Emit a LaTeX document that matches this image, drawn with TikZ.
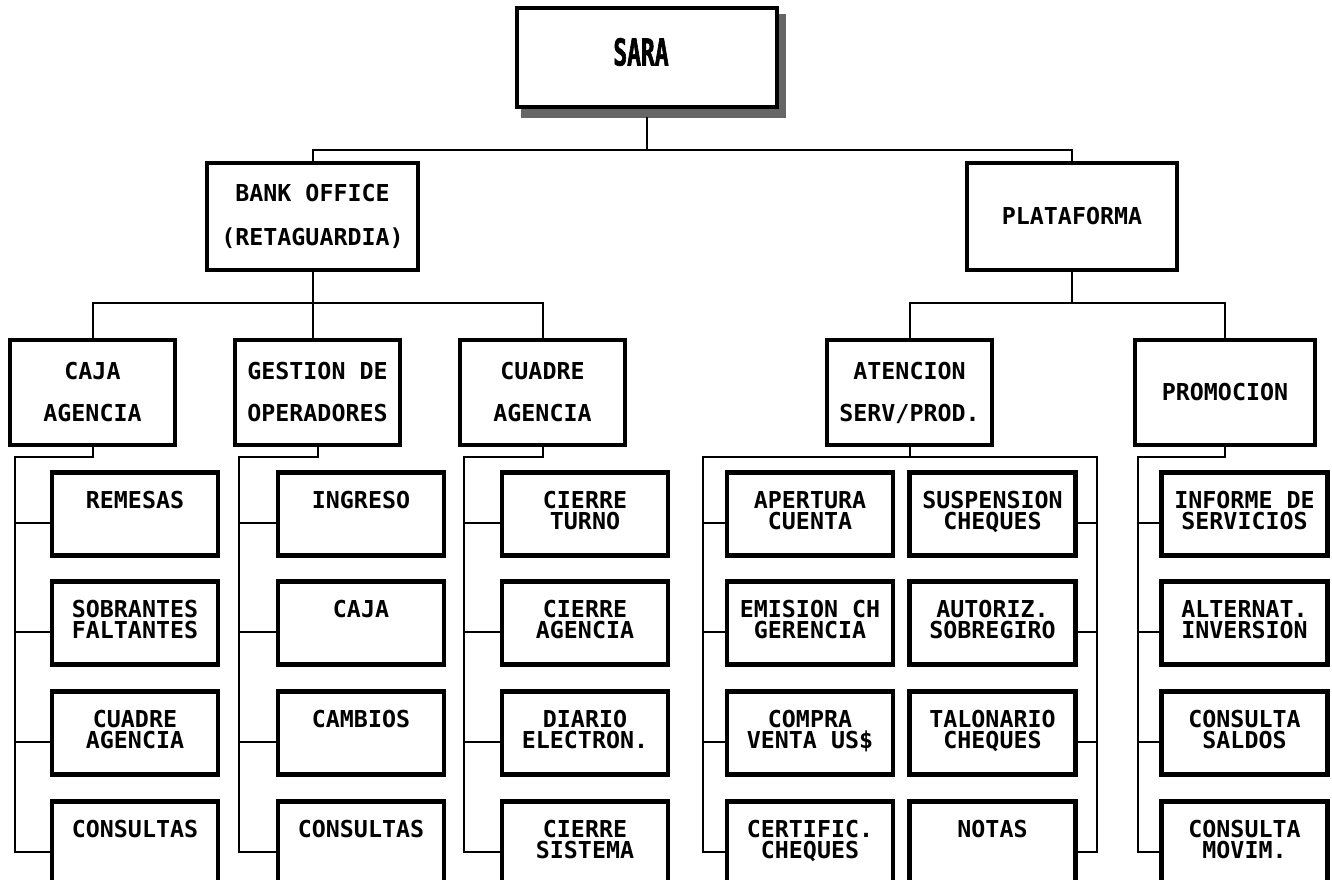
\documentclass[tikz,border=0pt]{standalone}
\usepackage{fontspec}
\newfontfamily\chartfont{DejaVu Sans Mono}
\newfontfamily\titlefont[FakeStretch=0.62,FakeBold=1.5]{DejaVu Sans Mono}
\usetikzlibrary{backgrounds}

\tikzset{
  frame/.style={draw=black, line width=4.5pt, fill=white, inner sep=0pt},
  headbox/.style={frame, minimum height=107pt, align=center,
    font=\chartfont\bfseries\fontsize{23.3}{44}\selectfont},
  midbox/.style={frame, minimum width=165pt, minimum height=105pt, align=center,
    font=\chartfont\bfseries\fontsize{23.3}{42}\selectfont},
  leafbox/.style={frame, minimum width=166pt, minimum height=83pt},
  leaflabel/.style={anchor=north, inner sep=0pt, align=center,
    font=\chartfont\bfseries\fontsize{23.3}{21}\selectfont},
  link/.style={line width=2pt, line cap=rect}
}

% leaf box with its label near the top and a connection port on each side
\newcommand\placeleaf[4]{%
  \node[leafbox] (#1) at (#2,#3) {};
  \node[leaflabel] (#1-txt) at ([yshift=-21pt]#1.north) {\rule{0pt}{17pt}#4};
  \coordinate (#1-l) at ([yshift=-9pt]#1.west);
  \coordinate (#1-r) at ([yshift=-9pt]#1.east);
}

\begin{document}
\begin{tikzpicture}[x=1pt,y=-1pt]
\useasboundingbox (0,0) rectangle (1332,879);
\begin{pgfonlayer}{background}
  \fill[white] (0,0) rectangle (1332,879);
\end{pgfonlayer}
\clip (0,0) rectangle (1332,879);

% bus levels and vertical bus lines
\coordinate (tier1) at (0,150);
\coordinate (tier2) at (0,303);
\coordinate (tier3) at (0,457);
\coordinate (b1) at (15,0);
\coordinate (b2) at (239,0);
\coordinate (b3) at (464,0);
\coordinate (b4) at (703,0);
\coordinate (b5) at (1097,0);
\coordinate (b6) at (1138,0);

% root with its shaded edge
\node[frame, minimum width=260pt, minimum height=99pt] (sara) at (647,57.5) {};
\node[inner sep=0pt, font=\titlefont\bfseries\fontsize{37}{40}\selectfont] (sara-txt) at (641,52) {SARA};
\begin{pgfonlayer}{background}
  \fill[black!60] ([shift={(6pt,-8pt)}]sara.north west) rectangle ([shift={(7pt,-9pt)}]sara.south east);
\end{pgfonlayer}

% first level
\node[headbox, minimum width=211pt] (bank) at (312.5,216.5) {BANK OFFICE\\(RETAGUARDIA)};
\node[headbox, minimum width=210pt] (plat) at (1072,216.5) {PLATAFORMA};

% second level
\node[midbox] (caja) at (92.5,392.5) {CAJA\\AGENCIA};
\node[midbox] (gest) at (317.5,392.5) {GESTION DE\\OPERADORES};
\node[midbox] (cuad) at (542.5,392.5) {CUADRE\\AGENCIA};
\node[midbox] (aten) at (909.5,392.5) {ATENCION\\SERV/PROD.};
\node[midbox, minimum width=180pt] (prom) at (1225,392.5) {PROMOCION};

% third level
\placeleaf{c1a}{135}{514}{REMESAS}
\placeleaf{c1b}{135}{623}{SOBRANTES\\FALTANTES}
\placeleaf{c1c}{135}{733}{CUADRE\\AGENCIA}
\placeleaf{c1d}{135}{843}{CONSULTAS}

\placeleaf{c2a}{361}{514}{INGRESO}
\placeleaf{c2b}{361}{623}{CAJA}
\placeleaf{c2c}{361}{733}{CAMBIOS}
\placeleaf{c2d}{361}{843}{CONSULTAS}

\placeleaf{c3a}{585}{514}{CIERRE\\TURNO}
\placeleaf{c3b}{585}{623}{CIERRE\\AGENCIA}
\placeleaf{c3c}{585}{733}{DIARIO\\ELECTRON.}
\placeleaf{c3d}{585}{843}{CIERRE\\SISTEMA}

\placeleaf{c4a}{810}{514}{APERTURA\\CUENTA}
\placeleaf{c4b}{810}{623}{EMISION CH\\GERENCIA}
\placeleaf{c4c}{810}{733}{COMPRA\\VENTA US\$}
\placeleaf{c4d}{810}{843}{CERTIFIC.\\CHEQUES}

\placeleaf{c5a}{992.5}{514}{SUSPENSION\\CHEQUES}
\placeleaf{c5b}{992.5}{623}{AUTORIZ.\\SOBREGIRO}
\placeleaf{c5c}{992.5}{733}{TALONARIO\\CHEQUES}
\placeleaf{c5d}{992.5}{843}{NOTAS}

\placeleaf{c6a}{1244.5}{514}{INFORME DE\\SERVICIOS}
\placeleaf{c6b}{1244.5}{623}{ALTERNAT.\\INVERSION}
\placeleaf{c6c}{1244.5}{733}{CONSULTA\\SALDOS}
\placeleaf{c6d}{1244.5}{843}{CONSULTA\\MOVIM.}

% root to first level
\draw[link] ([yshift=-9pt]sara.south) -- (sara.south |- tier1);
\draw[link] (bank.north) |- (plat.north |- tier1) -- (plat.north);

% first level to second level
\draw[link] (bank.south) -- (bank.south |- gest.north);
\draw[link] (caja.north) |- (cuad.north |- tier2) -- (cuad.north);
\draw[link] (plat.south) -- (plat.south |- tier2);
\draw[link] (aten.north) |- (prom.north |- tier2) -- (prom.north);

% second level to leaves
\draw[link] (caja.south) |- (b1 |- tier3) |- (c1d-l);
\foreach \r in {a,b,c} \draw[link] (b1 |- c1\r-l) -- (c1\r-l);

\draw[link] (gest.south) |- (b2 |- tier3) |- (c2d-l);
\foreach \r in {a,b,c} \draw[link] (b2 |- c2\r-l) -- (c2\r-l);

\draw[link] (cuad.south) |- (b3 |- tier3) |- (c3d-l);
\foreach \r in {a,b,c} \draw[link] (b3 |- c3\r-l) -- (c3\r-l);

\draw[link] (aten.south) -- (aten.south |- tier3);
\draw[link] (c4d-l) -| (b4 |- tier3) -- (b5 |- tier3) |- (c5d-r);
\foreach \r in {a,b,c} \draw[link] (b4 |- c4\r-l) -- (c4\r-l);
\foreach \r in {a,b,c} \draw[link] (b5 |- c5\r-r) -- (c5\r-r);

\draw[link] (prom.south) |- (b6 |- tier3) |- (c6d-l);
\foreach \r in {a,b,c} \draw[link] (b6 |- c6\r-l) -- (c6\r-l);
\end{tikzpicture}
\end{document}
